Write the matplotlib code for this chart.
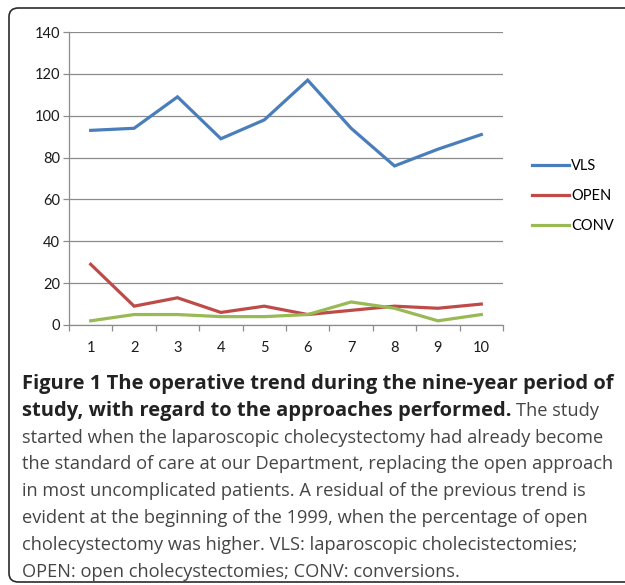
import matplotlib
matplotlib.use("Agg")
import matplotlib.pyplot as plt
from matplotlib.patches import FancyBboxPatch

# ---------------- data ----------------
years = [1, 2, 3, 4, 5, 6, 7, 8, 9, 10]
vls = [93, 94, 109, 89, 98, 117, 94, 76, 84, 91]
open_ = [29, 9, 13, 6, 9, 5, 7, 9, 8, 10]
conv = [2, 5, 5, 4, 4, 5, 11, 8, 2, 5]
series_names = ["VLS", "OPEN", "CONV"]
y_ticks = [0, 20, 40, 60, 80, 100, 120, 140]

caption_bold = ["Figure 1 The operative trend during the nine-year period of",
                "study, with regard to the approaches performed."]
caption_after_bold = "The study"
caption_normal = [
    "started when the laparoscopic cholecystectomy had already become",
    "the standard of care at our Department, replacing the open approach",
    "in most uncomplicated patients. A residual of the previous trend is",
    "evident at the beginning of the 1999, when the percentage of open",
    "cholecystectomy was higher. VLS: laparoscopic cholecistectomies;",
    "OPEN: open cholecystectomies; CONV: conversions.",
]

# ---------------- layout ----------------
W, H = 625, 585
fig = plt.figure(figsize=(W / 100, H / 100), dpi=100)
fig.patch.set_facecolor("white")


def fx(px):
    return px / W


def fy(py):
    return 1 - py / H


# rounded frame
frame = FancyBboxPatch((fx(9), fy(582)), fx(720) - fx(9), fy(8) - fy(582),
                       boxstyle="round,pad=0,rounding_size=0.015",
                       transform=fig.transFigure, facecolor="none",
                       edgecolor="#2b2b2b", linewidth=1.2, clip_on=False)
fig.patches.append(frame)

ax = fig.add_axes([fx(69), fy(325), fx(503) - fx(69), fy(32) - fy(325)])
chart_font = ["Lato", "DejaVu Sans"]

colors = ["#4A7EBB", "#BE4B48", "#98B954"]
for vals, name, c in zip([vls, open_, conv], series_names, colors):
    ax.plot(years, vals, color=c, linewidth=2.3, label=name,
            solid_joinstyle="miter", zorder=3)

ax.set_xlim(0.5, 10.5)
ax.set_ylim(0, 140)
ax.set_yticks(y_ticks)
ax.set_xticks(years)
ax.set_xticks([x + 0.5 for x in [0] + years], minor=True)
ax.yaxis.grid(True, color="#8c8c8c", linewidth=0.9)
ax.set_axisbelow(True)
for s in ["top", "right"]:
    ax.spines[s].set_visible(False)
for s in ["left", "bottom"]:
    ax.spines[s].set_color("#8c8c8c")
    ax.spines[s].set_linewidth(0.9)
ax.tick_params(axis="y", length=4.3, width=0.9, color="#8c8c8c", pad=2,
               labelsize=10.5, labelcolor="#1a1a1a")
ax.tick_params(axis="x", which="major", length=0, pad=11.5, labelsize=10.5,
               labelcolor="#1a1a1a")
ax.tick_params(axis="x", which="minor", length=4.3, width=0.9, color="#8c8c8c")
for lab in ax.get_xticklabels() + ax.get_yticklabels():
    lab.set_family(chart_font)

leg = ax.legend(loc="center left", bbox_to_anchor=(fx(525), fy(196)),
                bbox_transform=fig.transFigure, frameon=False,
                handlelength=2.5, handletextpad=0.15, labelspacing=1.1,
                prop={"family": chart_font, "size": 10.5}, borderpad=0)
for line in leg.get_lines():
    line.set_linewidth(2.3)

# ---------------- caption ----------------
renderer = fig.canvas.get_renderer()
cap_font = ["Open Sans", "DejaVu Sans"]
x0 = 22
base0 = 389
pitch = 26.8
target = 590.0

bold_texts = []
for i, s in enumerate(caption_bold):
    t = fig.text(fx(x0), fy(base0 + pitch * i), s, fontsize=12,
                 fontweight="bold", family=cap_font, color="#222222",
                 va="baseline", ha="left")
    bold_texts.append(t)
w = bold_texts[0].get_window_extent(renderer).width
bsize = 12 * target / w
for t in bold_texts:
    t.set_fontsize(bsize)

normal_texts = []
for i, s in enumerate(caption_normal):
    t = fig.text(fx(x0), fy(base0 + pitch * (i + 2)), s, fontsize=12,
                 family=cap_font, color="#454545", va="baseline", ha="left")
    normal_texts.append(t)
w = normal_texts[1].get_window_extent(renderer).width
nsize = 12 * target / w
for t in normal_texts:
    t.set_fontsize(nsize)

wb = bold_texts[1].get_window_extent(renderer).width
fig.text(fx(x0 + wb + 5), fy(base0 + pitch), caption_after_bold,
         fontsize=nsize, family=cap_font, color="#454545",
         va="baseline", ha="left")

fig.savefig("out.png", dpi=100, facecolor="white")
